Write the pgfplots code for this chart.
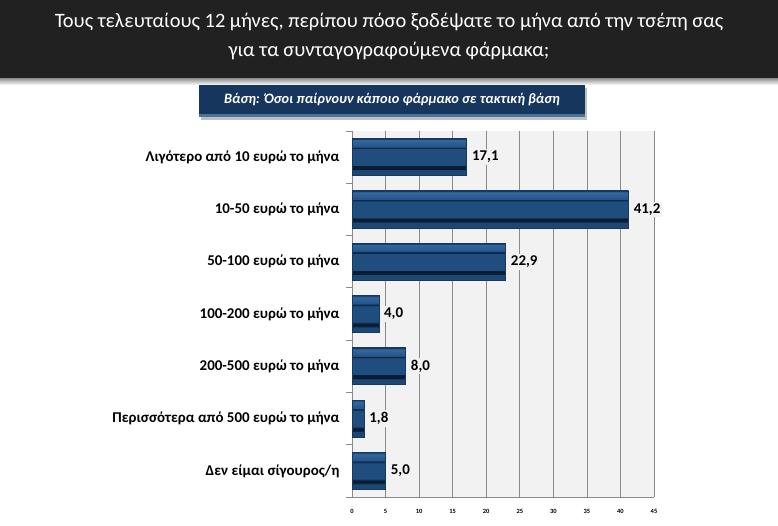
\documentclass[border=0pt]{standalone}
\usepackage{fontspec}
\setmainfont{Carlito}
\usepackage{pgfplots}
\pgfplotsset{compat=1.18}
\definecolor{hdr}{HTML}{212121}
\definecolor{subnavy}{HTML}{17365D}
\definecolor{subedge}{HTML}{4A74A0}
\definecolor{plotbg}{HTML}{F2F2F2}
\definecolor{gridc}{HTML}{8A8A8A}
\definecolor{baredge}{HTML}{17395E}
\definecolor{bframelo}{HTML}{1D4775}
\definecolor{bardark}{HTML}{0B1D35}
\definecolor{barinner}{HTML}{1F4E7E}
\definecolor{bline}{HTML}{0F2A4A}
\definecolor{bframehi}{HTML}{22558A}
\definecolor{bhigh}{HTML}{3468A0}
\pgfdeclareverticalshading{bevel}{100bp}{%
  color(0bp)=(baredge); color(25bp)=(baredge);
  color(26.3bp)=(bframelo); color(32.8bp)=(bframelo);
  color(33.2bp)=(bardark); color(38.2bp)=(bardark);
  color(38.7bp)=(barinner); color(61.2bp)=(barinner);
  color(61.6bp)=(bline); color(63.3bp)=(bline);
  color(63.8bp)=(bframehi); color(73.4bp)=(bhigh);
  color(74bp)=(baredge); color(75bp)=(baredge); color(100bp)=(baredge)}
\pgfplotsset{mybar/.style={shading=bevel, draw=baredge, line width=0.6bp, bar shift=0pt}}
\begin{document}
\begin{tikzpicture}[x=1bp,y=1bp]
\path[use as bounding box] (0,0) rectangle (778,526);
\fill[white] (0,0) rectangle (778,526);
\shade[top color=black!45, bottom color=white] (0,441) rectangle (778,448);
\fill[hdr] (0,448) rectangle (778,526);
\node[white, font=\fontsize{20.5}{24}\selectfont] at (389,504) {Τους τελευταίους 12 μήνες, περίπου πόσο ξοδέψατε το μήνα από την τσέπη σας};
\node[white, font=\fontsize{20.5}{24}\selectfont] at (389,475) {για τα συνταγογραφούμενα φάρμακα;};
\fill[black!25] (201,406) rectangle (587,438);
\fill[subnavy] (199,409) rectangle (585,441);
\fill[subedge] (199,409) rectangle (585,412);
\node[white, font=\fontsize{14.4}{16}\selectfont\bfseries\itshape] at (392,426) {Βάση: Όσοι παίρνουν κάποιο φάρμακο σε τακτική βάση};
\begin{axis}[
  at={(352bp,29bp)}, anchor=south west,
  scale only axis, width=302bp, height=366bp,
  xbar, bar width=37bp,
  xmin=0, xmax=45, ymin=-0.5, ymax=6.5, y dir=reverse,
  clip=false,
  axis background/.style={fill=plotbg},
  axis x line*=bottom, axis y line*=left,
  axis line style={draw=gridc, line width=0.8bp, -},
  xtick={0,5,...,45},
  xmajorgrids, grid style={draw=gridc, line width=0.7bp},
  major tick length=0pt,
  xticklabel style={font=\fontsize{6.5}{7}\selectfont\bfseries, yshift=-9bp},
  ytick={0,...,6},
  yticklabels={Λιγότερο από 10 ευρώ το μήνα, 10-50 ευρώ το μήνα, 50-100 ευρώ το μήνα, 100-200 ευρώ το μήνα, 200-500 ευρώ το μήνα, Περισσότερα από 500 ευρώ το μήνα, Δεν είμαι σίγουρος/η},
  yticklabel style={font=\fontsize{15}{17}\selectfont\bfseries, anchor=east, xshift=-9bp},
  minor ytick={-0.5,0.5,...,6.5},
  minor tick length=6bp, tick align=outside,
  minor tick style={draw=gridc, line width=0.8bp},
  /pgf/number format/assume math mode=true,
  point meta=x,
  nodes near coords={\pgfmathprintnumber[fixed,fixed zerofill,precision=1,use comma]{\pgfplotspointmeta}},
  every node near coord/.append style={font=\fontsize{15}{17}\selectfont\bfseries, text=black, fill=plotbg, inner sep=2bp, anchor=west, xshift=3bp},
]
\addplot[mybar] coordinates {(17.1,0)};
\addplot[mybar] coordinates {(41.2,1)};
\addplot[mybar] coordinates {(22.9,2)};
\addplot[mybar] coordinates {(4.0,3)};
\addplot[mybar] coordinates {(8.0,4)};
\addplot[mybar] coordinates {(1.8,5)};
\addplot[mybar] coordinates {(5.0,6)};
\end{axis}
\end{tikzpicture}
\end{document}
